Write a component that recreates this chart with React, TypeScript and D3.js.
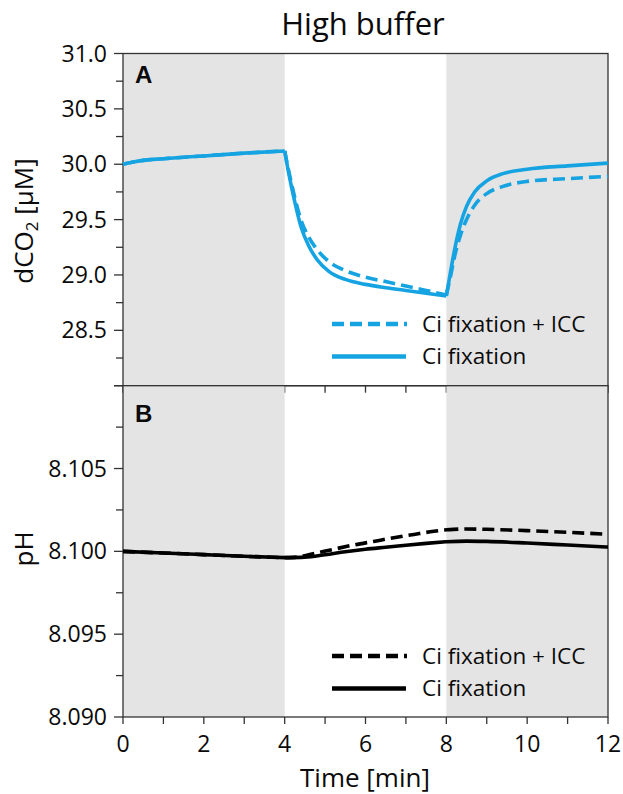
import React from "react";
import * as d3 from "d3";

const xTicks = [0, 1, 2, 3, 4, 5, 6, 7, 8, 9, 10, 11, 12];
const xLabels = [0, 2, 4, 6, 8, 10, 12];
const shadedPhases: [number, number][] = [[0, 4], [8, 12]];

const yTicksA = [28.0, 28.5, 29.0, 29.5, 30.0, 30.5, 31.0];
const yMinorA = [28.25, 28.75, 29.25, 29.75, 30.25, 30.75];
const yLabelsA = [28.5, 29.0, 29.5, 30.0, 30.5, 31.0];
const yTicksB = [8.09, 8.095, 8.1, 8.105, 8.11];
const yMinorB = [8.0925, 8.0975, 8.1025, 8.1075];
const yLabelsB = [8.09, 8.095, 8.1, 8.105];

// Panel A: dCO2 [µM], split into phases (dark / light / dark)
const co2Phase1: [number, number][] = [[0, 30.0], [0.25, 30.02], [0.5, 30.035], [1, 30.05], [2, 30.075], [3, 30.1], [4, 30.12]];
const co2FixPhase2: [number, number][] = [[4, 30.12], [4.1, 29.92], [4.25, 29.66], [4.4, 29.44], [4.6, 29.26], [4.8, 29.14], [5.1, 29.03], [5.5, 28.96], [6, 28.915], [6.5, 28.885], [7, 28.86], [7.5, 28.835], [8, 28.81]];
const co2FixPhase3: [number, number][] = [[8, 28.81], [8.1, 29.02], [8.2, 29.22], [8.35, 29.46], [8.5, 29.62], [8.7, 29.75], [9, 29.85], [9.4, 29.915], [10, 29.955], [11, 29.985], [12, 30.01]];
const co2IccPhase2: [number, number][] = [[4, 30.12], [4.1, 29.94], [4.25, 29.7], [4.4, 29.5], [4.6, 29.34], [4.8, 29.23], [5.1, 29.12], [5.5, 29.04], [6, 28.98], [6.5, 28.94], [7, 28.9], [7.5, 28.86], [8, 28.82]];
const co2IccPhase3: [number, number][] = [[8, 28.82], [8.1, 28.98], [8.2, 29.16], [8.35, 29.36], [8.5, 29.5], [8.7, 29.63], [9, 29.735], [9.4, 29.8], [10, 29.845], [11, 29.87], [12, 29.89]];

// Panel B: pH
const phPhase1: [number, number][] = [[0, 8.1], [1, 8.0999], [2, 8.0998], [3, 8.0997], [4, 8.09962]];
const phFixPhase2: [number, number][] = [[4, 8.09962], [4.5, 8.09965], [5, 8.0998], [5.5, 8.09998], [6, 8.10013], [6.5, 8.10025], [7, 8.10037], [7.5, 8.10048], [8, 8.10058]];
const phFixPhase3: [number, number][] = [[8, 8.10058], [8.5, 8.10062], [9, 8.1006], [10, 8.1005], [11, 8.10038], [12, 8.10026]];
const phIccPhase2: [number, number][] = [[4, 8.09962], [4.3, 8.09965], [4.7, 8.09985], [5.2, 8.10012], [5.7, 8.10038], [6.2, 8.1006], [6.7, 8.10082], [7.2, 8.10102], [7.6, 8.10118], [8, 8.1013]];
const phIccPhase3: [number, number][] = [[8, 8.1013], [8.5, 8.10135], [9, 8.10133], [10, 8.10125], [11, 8.10115], [12, 8.10103]];

const legendLabels = ["Ci fixation + ICC", "Ci fixation"];

const FONT = "'Open Sans', sans-serif";
const BLUE = "#16a3e1";
const AXIS = "#333";
const GRAY = "#e4e4e4";
const TXT = "#0a0a0a";

export default function App() {
  const x = d3.scaleLinear().domain([0, 12]).range([123, 608]);
  const yA = d3.scaleLinear().domain([28, 31]).range([385.7, 53.5]);
  const yB = d3.scaleLinear().domain([8.09, 8.11]).range([717, 385.7]);

  const mkPath = (y: d3.ScaleLinear<number, number>, segs: [number, number][][]) => {
    const g = d3
      .line<[number, number]>()
      .x((d) => x(d[0]))
      .y((d) => y(d[1]))
      .curve(d3.curveMonotoneX);
    return segs.map((s) => g(s) as string).join(" ");
  };

  const panel = (
    y: d3.ScaleLinear<number, number>,
    ticks: number[],
    minor: number[],
    labels: number[],
    fmt: (v: number) => string,
    letter: string,
    letterY: number
  ) => {
    const [d0, d1] = y.domain();
    const top = y(d1);
    const bot = y(d0);
    return (
      <g>
        {shadedPhases.map(([a, b], i) => (
          <rect key={i} x={x(a)} y={top} width={x(b) - x(a)} height={bot - top} fill={GRAY} />
        ))}
        {ticks.map((t) => (
          <line key={"t" + t} x1={x(0) - 9} x2={x(0)} y1={y(t)} y2={y(t)} stroke={AXIS} strokeWidth={1.3} />
        ))}
        {minor.map((t) => (
          <line key={"m" + t} x1={x(0) - 7} x2={x(0)} y1={y(t)} y2={y(t)} stroke={AXIS} strokeWidth={1.3} />
        ))}
        {labels.map((t) => (
          <text key={"l" + t} x={107} y={y(t)} dy="0.35em" textAnchor="end" fontSize={23} fontFamily={FONT} fill={TXT}>
            {fmt(t)}
          </text>
        ))}
        {xTicks.map((t) => (
          <line key={"x" + t} x1={x(t)} x2={x(t)} y1={bot} y2={bot + 7} stroke={AXIS} strokeWidth={1.3} />
        ))}
        <rect x={x(0)} y={top} width={x(12) - x(0)} height={bot - top} fill="none" stroke={AXIS} strokeWidth={1.3} />
        <text x={135} y={letterY} fontSize={24} fontWeight="bold" fontFamily="'Liberation Sans', Arial, sans-serif" fill={TXT}>
          {letter}
        </text>
      </g>
    );
  };

  const legend = (yTop: number, color: string) => (
    <g>
      <line x1={332} x2={407} y1={yTop} y2={yTop} stroke={color} strokeWidth={4.5} strokeDasharray="12,6" />
      <line x1={332} x2={406} y1={yTop + 32.5} y2={yTop + 32.5} stroke={color} strokeWidth={4.5} />
      <text x={422} y={yTop + 8} fontSize={22.5} fontFamily={FONT} fill={TXT}>{legendLabels[0]}</text>
      <text x={422} y={yTop + 39.5} fontSize={22.5} fontFamily={FONT} fill={TXT}>{legendLabels[1]}</text>
    </g>
  );

  return (
    <svg width={623} height={794} style={{ position: "absolute", left: 0, top: 0, background: "#fff" }}>
      <text x={363} y={35} textAnchor="middle" fontSize={31} fontFamily={FONT} fill={TXT}>High buffer</text>

      {panel(yA, yTicksA, yMinorA, yLabelsA, (v) => v.toFixed(1), "A", 83)}
      {panel(yB, yTicksB, yMinorB, yLabelsB, (v) => v.toFixed(3), "B", 422)}

      <path d={mkPath(yA, [co2Phase1, co2IccPhase2, co2IccPhase3])} fill="none" stroke={BLUE} strokeWidth={3.6} strokeDasharray="12,6" />
      <path d={mkPath(yA, [co2Phase1, co2FixPhase2, co2FixPhase3])} fill="none" stroke={BLUE} strokeWidth={3.6} />

      <path d={mkPath(yB, [phPhase1, phIccPhase2, phIccPhase3])} fill="none" stroke="#000" strokeWidth={3.6} strokeDasharray="12,6" />
      <path d={mkPath(yB, [phPhase1, phFixPhase2, phFixPhase3])} fill="none" stroke="#000" strokeWidth={3.6} />

      {legend(324, BLUE)}
      {legend(656, "#000")}

      {xLabels.map((t) => (
        <text key={t} x={x(t)} y={752} textAnchor="middle" fontSize={23} fontFamily={FONT} fill={TXT}>{t}</text>
      ))}
      <text x={365} y={787} textAnchor="middle" fontSize={26} fontFamily={FONT} fill={TXT}>Time [min]</text>

      <text transform="translate(33,221) rotate(-90)" textAnchor="middle" fontSize={26} fontFamily={FONT} fill={TXT}>
        dCO<tspan fontSize={17} dy={5}>2</tspan><tspan dy={-5}> [µM]</tspan>
      </text>
      <text transform="translate(33,549) rotate(-90)" textAnchor="middle" fontSize={26} fontFamily={FONT} fill={TXT}>pH</text>
    </svg>
  );
}
